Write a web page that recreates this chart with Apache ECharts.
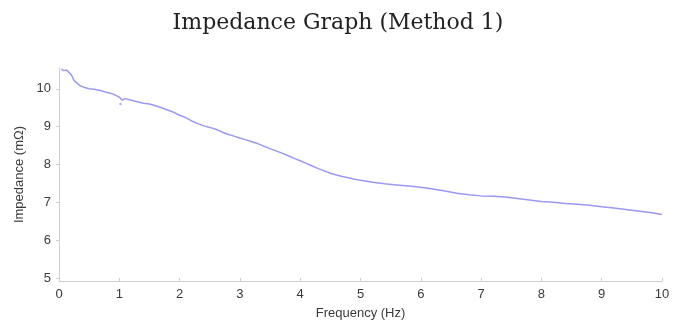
<!DOCTYPE html>
<html>
<head>
<meta charset="utf-8">
<script src="https://cdn.jsdelivr.net/npm/echarts@6/dist/echarts.min.js"></script>
<style>
  html, body { margin: 0; padding: 0; background: #fff; }
  #graph { width: 676px; height: 329px; }
</style>
</head>
<body>
<div id="graph"></div>
<script>
// frequency (Hz)
var freq = [0.04, 0.08, 0.12, 0.16, 0.2, 0.25, 0.3, 0.35, 0.4, 0.5, 0.6, 0.7, 0.8, 0.9, 1.0, 1.05, 1.1, 1.2, 1.3, 1.4,
    1.5, 1.6, 1.7, 1.8, 1.9, 2.0, 2.1, 2.2, 2.3, 2.4, 2.5, 2.6, 2.7, 2.8, 2.9, 3.0, 3.1, 3.2, 3.3, 3.4,
    3.5, 3.6, 3.7, 3.8, 3.9, 4.0, 4.1, 4.2, 4.3, 4.4, 4.5, 4.6, 4.7, 4.8, 4.9, 5.0, 5.2, 5.4, 5.6, 5.8,
    6.0, 6.2, 6.4, 6.6, 6.8, 7.0, 7.2, 7.4, 7.6, 7.8, 8.0, 8.2, 8.4, 8.6, 8.8, 9.0, 9.2, 9.4, 9.6, 9.8, 10.0];
// impedance (mOhm)
var impedance = [10.52, 10.48, 10.5, 10.44, 10.38, 10.22, 10.15, 10.08, 10.05, 10.0, 9.98, 9.95, 9.9, 9.86, 9.78, 9.7, 9.74, 9.7, 9.66, 9.62,
    9.6, 9.55, 9.5, 9.44, 9.38, 9.3, 9.24, 9.15, 9.08, 9.02, 8.98, 8.93, 8.86, 8.8, 8.75, 8.7, 8.65, 8.6, 8.55, 8.48,
    8.42, 8.36, 8.3, 8.23, 8.16, 8.1, 8.03, 7.96, 7.89, 7.83, 7.77, 7.72, 7.68, 7.65, 7.61, 7.58, 7.53, 7.49, 7.46, 7.43,
    7.4, 7.35, 7.3, 7.24, 7.2, 7.17, 7.16, 7.14, 7.1, 7.06, 7.02, 7.0, 6.97, 6.95, 6.92, 6.88, 6.85, 6.81, 6.77, 6.73, 6.68];
// stray samples that sit off the curve
var strayFreq = [1.02];
var strayImpedance = [9.6];
var xTicks = [0, 1, 2, 3, 4, 5, 6, 7, 8, 9, 10];
var yTicks = [5, 6, 7, 8, 9, 10];

var chart = echarts.init(document.getElementById('graph'));
var points = freq.map(function (f, i) { return [f, impedance[i]]; });
var stray = strayFreq.map(function (f, i) { return [f, strayImpedance[i]]; });
var axisGrey = '#cfcfcf';
var blue = 'rgba(110,110,240,0.7)';
var labelStyle = { color: '#3a3a3a', fontSize: 13, fontFamily: 'Liberation Sans, Arial, sans-serif' };

chart.setOption({
    animation: false,
    title: {
        text: 'Impedance Graph (Method 1)',
        left: 'center',
        top: 7,
        textStyle: { fontFamily: 'DejaVu Serif, serif', fontWeight: 'normal', fontSize: 22, color: '#222' }
    },
    grid: { left: 59, right: 14, top: 68, bottom: 48 },
    xAxis: {
        type: 'value',
        min: 0,
        max: 10,
        interval: 1,
        name: 'Frequency (Hz)',
        nameLocation: 'middle',
        nameGap: 26,
        nameTextStyle: labelStyle,
        splitLine: { show: false },
        axisLine: { lineStyle: { color: axisGrey } },
        axisTick: { inside: true, length: 3, lineStyle: { color: axisGrey } },
        axisLabel: Object.assign({ margin: 7, customValues: xTicks }, labelStyle)
    },
    yAxis: {
        type: 'value',
        min: 4.92,
        max: 10.55,
        name: 'Impedance (mΩ)',
        nameLocation: 'middle',
        nameGap: 32,
        nameTextStyle: labelStyle,
        splitLine: { show: false },
        axisLine: { show: true, lineStyle: { color: axisGrey } },
        axisTick: { show: true, length: 3, customValues: yTicks, lineStyle: { color: axisGrey } },
        axisLabel: Object.assign({ margin: 8, customValues: yTicks }, labelStyle)
    },
    series: [{
        type: 'line',
        data: points,
        showSymbol: false,
        lineStyle: { color: blue, width: 1.5 }
    }, {
        type: 'scatter',
        data: stray,
        symbolSize: 2.5,
        itemStyle: { color: blue }
    }]
});
</script>
</body>
</html>
